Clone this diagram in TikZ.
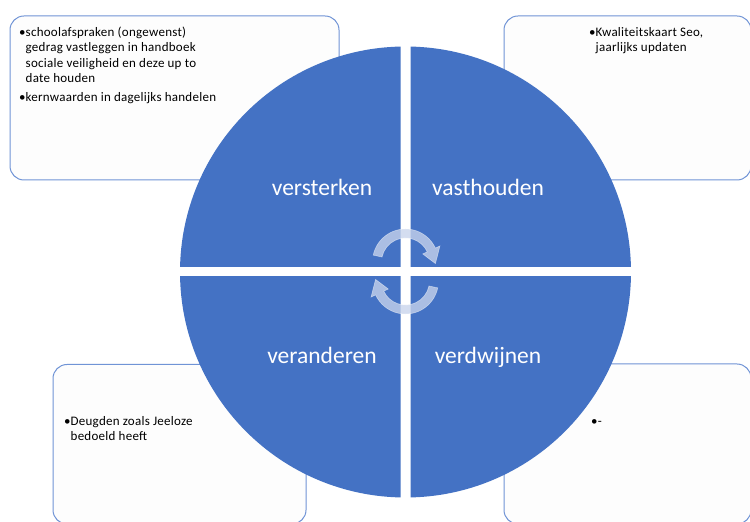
\documentclass[tikz,border=0pt]{standalone}
\usepackage{fontspec}
\setmainfont{Carlito}
\newfontfamily\boxfont[LetterSpace=2]{Carlito}
\definecolor{quadblue}{RGB}{68,114,196}
\definecolor{boxline}{RGB}{112,148,214}
\definecolor{boxfill}{RGB}{253,253,253}
\definecolor{arrowfill}{RGB}{200,212,236}
\begin{document}
\begin{tikzpicture}[x=1pt,y=1pt,
  infobox/.style={draw=boxline, fill=boxfill, line width=1pt, rounded corners=14pt},
  quad/.style={fill=quadblue},
  qlabel/.style={text=white, font=\fontsize{23.5}{28}\selectfont, anchor=base, inner sep=0pt},
  btext/.style={font=\boxfont\fontsize{13}{15.5}\selectfont, anchor=base west, inner sep=0pt, align=left},
  cyc/.style={fill=arrowfill, fill opacity=0.78, draw=white, draw opacity=0.45, line width=0.6pt}]
\clip (0,0) rectangle (750,522);
\fill[white] (0,0) rectangle (750,522);
% text boxes
\draw[infobox] (10,506) rectangle (339,342);
\draw[infobox] (504,506) rectangle (751,342);
\draw[infobox] (53,157.5) rectangle (306,-2);
\draw[infobox] (504,158) rectangle (751,-2);
\node[btext] (t1) at (19,485.5) {\begin{tabular}[t]{@{}l@{}l@{}}\textbullet&schoolafspraken (ongewenst)\\&gedrag vastleggen in handboek\\&sociale veiligheid en deze up to\\&date houden\\[3pt]\textbullet&kernwaarden in dagelijks handelen\end{tabular}};
\node[btext] (t2) at (589,485.5) {\begin{tabular}[t]{@{}l@{}l@{}}\textbullet&Kwaliteitskaart Seo,\\&jaarlijks updaten\end{tabular}};
\node[btext] (t3) at (64,96.5) {\begin{tabular}[t]{@{}l@{}l@{}}\textbullet&Deugden zoals Jeeloze\\&bedoeld heeft\end{tabular}};
\node[btext] (t4) at (591,96.5) {\textbullet-};
% quadrants
\coordinate (C) at (405.5,250);
\begin{scope}\clip (410.5,255) rectangle (640,480); \fill[quad] (C) circle (225.5);\end{scope}
\begin{scope}\clip (170,255) rectangle (400.5,480); \fill[quad] (C) circle (225.5);\end{scope}
\begin{scope}\clip (170,245) rectangle (400.5,20); \fill[quad] (C) circle (225.5);\end{scope}
\begin{scope}\clip (410.5,245) rectangle (640,20); \fill[quad] (C) circle (225.5);\end{scope}
% labels
\node[qlabel] (l1) at (322,326) {versterken};
\node[qlabel] (l2) at (488,326) {vasthouden};
\node[qlabel] (l3) at (322,158) {veranderen};
\node[qlabel] (l4) at (488,158) {verdwijnen};
% cycle arrows
\coordinate (A) at (405.5,260);
\coordinate (B) at (405.5,241);
\path[cyc] ([shift={(168:33)}]A) arc[start angle=168,end angle=25,radius=33] -- ([shift={(25:38)}]A) -- ([shift={(-3:30)}]A) -- ([shift={(25:19)}]A) -- ([shift={(25:24)}]A) arc[start angle=25,end angle=168,radius=24] -- cycle;
\path[cyc] ([shift={(348:33)}]B) arc[start angle=348,end angle=205,radius=33] -- ([shift={(205:38)}]B) -- ([shift={(177:30)}]B) -- ([shift={(205:19)}]B) -- ([shift={(205:24)}]B) arc[start angle=205,end angle=348,radius=24] -- cycle;
\end{tikzpicture}
\end{document}
